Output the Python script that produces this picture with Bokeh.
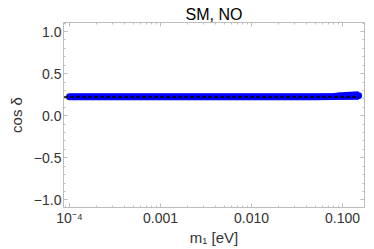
import math
from bokeh.plotting import figure
from bokeh.models import (FixedTicker, CustomJSTickFormatter, LinearAxis, LogAxis,
                          Range1d, ColumnDataSource)
from bokeh.embed import file_html
from bokeh.resources import INLINE

# ---- data ----
m1 = [1e-4, 3e-4, 1e-3, 3e-3, 0.01, 0.03, 0.05, 0.08, 0.09, 0.1, 0.12, 0.15]
cos_low = [0.19, 0.19, 0.19, 0.19, 0.19, 0.19, 0.19, 0.19, 0.19, 0.19, 0.19, 0.19]
cos_high = [0.262, 0.262, 0.262, 0.262, 0.262, 0.262, 0.262, 0.265, 0.275, 0.28, 0.285, 0.29]
cos_mid = [0.225, 0.225, 0.225, 0.225, 0.225, 0.225, 0.225, 0.227, 0.23, 0.232, 0.235, 0.238]
dash_x = [8.7e-5, 0.15]
dash_y = [0.222, 0.222]

x_ticks = [1e-4, 1e-3, 1e-2, 1e-1]
x_tick_labels = ["10\u207b\u2074", "0.001", "0.010", "0.100"]
x_minor = [k * 10.0 ** e for e in (-5, -4, -3, -2, -1) for k in range(2, 10)]
y_ticks = [-1.0, -0.5, 0.0, 0.5, 1.0]
y_tick_labels = ["\u22121.0", "\u22120.5", "0.0", "0.5", "1.0"]
y_minor = [round(-1.1 + 0.1 * i, 2) for i in range(23)]

title_text = "SM, NO"
x_label = "m\u2081 [eV]"
y_label = "cos \u03b4"

FONT = "Liberation Sans"
GRAY = "#bdbdbd"
TXT = "#333333"

p = figure(width=374, height=249, x_axis_type="log",
           x_range=Range1d(8.6e-5, 0.174), y_range=Range1d(-1.09, 1.107),
           output_backend="svg", toolbar_location=None,
           min_border_left=63, min_border_right=10, min_border_top=22, min_border_bottom=42)
p.xgrid.visible = False
p.ygrid.visible = False
p.outline_line_color = GRAY
p.background_fill_color = "white"

p.title.text = title_text
p.title.align = "center"
p.title.text_font = FONT
p.title.text_font_size = "16px"
p.title.text_font_style = "normal"
p.title.text_color = "black"
p.title.standoff = 0
p.title.offset = 0

src = ColumnDataSource(dict(x=m1, lo=cos_low, hi=cos_high, mid=cos_mid))
p.varea(x="x", y1="lo", y2="hi", source=src, fill_color="#0000ff")
p.line(x="x", y="mid", source=src, line_color="#0000ff", line_width=7, line_cap="round")
p.line(x=dash_x, y=dash_y, line_color="black", line_width=1.6, line_dash="4 2")

def style_axis(ax, ticks, minor, labels, show):
    ax.ticker = FixedTicker(ticks=ticks, minor_ticks=minor)
    ax.axis_line_color = GRAY
    ax.major_tick_line_color = GRAY
    ax.minor_tick_line_color = GRAY
    ax.major_tick_in = 4
    ax.major_tick_out = 0
    ax.minor_tick_in = 2
    ax.minor_tick_out = 0
    ax.major_label_text_font = FONT
    if show:
        ax.formatter = CustomJSTickFormatter(args=dict(t=ticks, l=labels), code="""
            for (let i = 0; i < t.length; i++) { if (Math.abs(tick - t[i]) <= 1e-6 * Math.abs(t[i])) return l[i]; }
            return String(tick);
        """)
        ax.major_label_text_font_size = "14px"
        ax.major_label_text_color = TXT
        ax.major_label_standoff = 2
        ax.axis_label_text_font = FONT
        ax.axis_label_text_font_size = "15px"
        ax.axis_label_text_font_style = "normal"
        ax.axis_label_text_color = TXT
        ax.axis_label_standoff = 0
    else:
        ax.major_label_text_font_size = "1px"
        ax.major_label_text_alpha = 0
        ax.major_label_standoff = 0

style_axis(p.xaxis[0], x_ticks, x_minor, x_tick_labels, True)
style_axis(p.yaxis[0], y_ticks, y_minor, y_tick_labels, True)
p.xaxis[0].axis_label = x_label
p.yaxis[0].axis_label = y_label
p.yaxis[0].axis_label_standoff = 6
top = LogAxis()
right = LinearAxis()
style_axis(top, x_ticks, x_minor, x_tick_labels, False)
style_axis(right, y_ticks, y_minor, y_tick_labels, False)
p.add_layout(top, "above")
p.add_layout(right, "right")

open("out.html", "w").write(file_html(p, INLINE))
